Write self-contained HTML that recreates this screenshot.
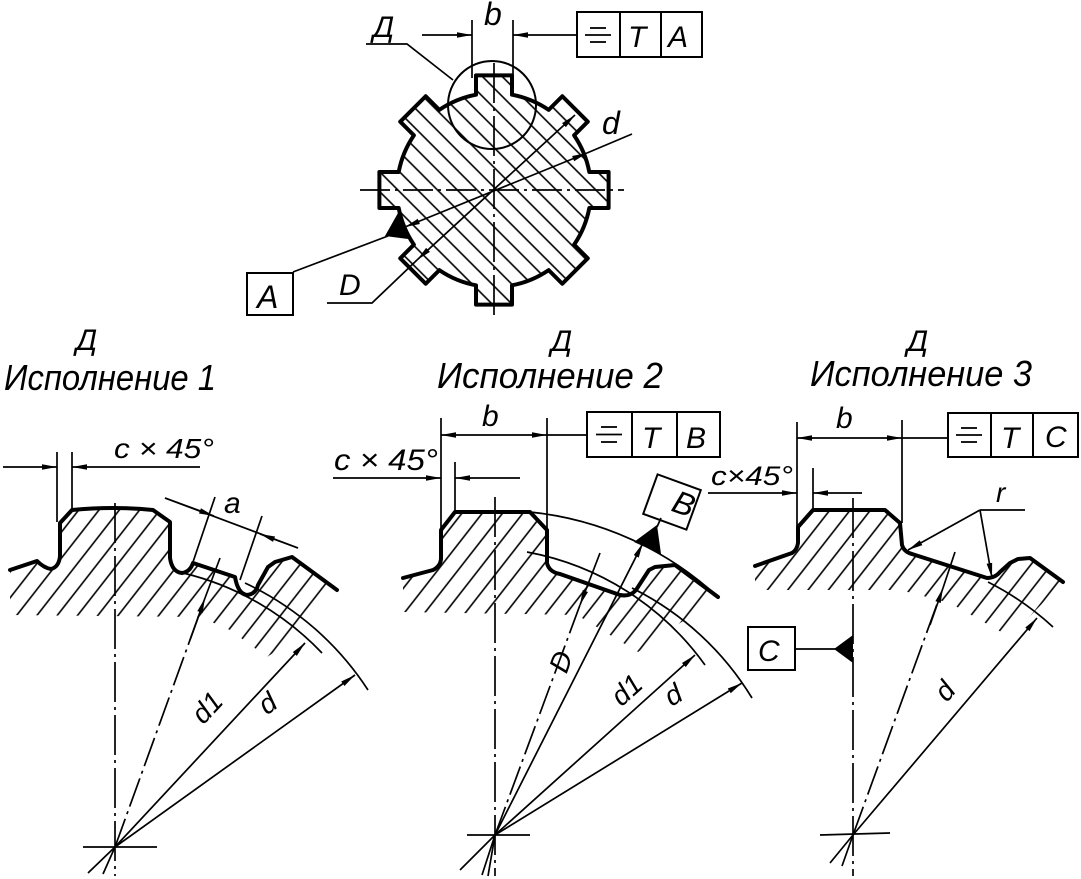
<!DOCTYPE html>
<html><head><meta charset="utf-8"><style>
html,body{margin:0;padding:0;background:#fff;width:1081px;height:879px;overflow:hidden;}
svg{display:block;}
text{font-family:"Liberation Sans","DejaVu Sans",sans-serif;font-style:italic;fill:#000;stroke:none;}
</style></head><body>
<svg width="1081" height="879" viewBox="0 0 1081 879" xmlns="http://www.w3.org/2000/svg">
<defs>
<marker id="a" viewBox="0 0 15 6" refX="15" refY="3" markerWidth="15" markerHeight="6" markerUnits="userSpaceOnUse" orient="auto-start-reverse"><path d="M0,0.2 L15,3 L0,5.8 Z" fill="#000" stroke="none"/></marker>
<pattern id="h45" patternUnits="userSpaceOnUse" width="14" height="14" patternTransform="rotate(-45)"><line x1="7" y1="-1" x2="7" y2="15" stroke="#000" stroke-width="1.6"/></pattern>
<pattern id="hb" patternUnits="userSpaceOnUse" width="16" height="16" patternTransform="rotate(38)"><line x1="8" y1="-1" x2="8" y2="17" stroke="#000" stroke-width="1.6"/></pattern>
</defs>
<rect width="1081" height="879" fill="#fff"/>

<g fill="none" stroke="#000" stroke-width="1.7">
<!-- ===== TOP FIGURE ===== -->
<path fill="url(#h45)" stroke="none" d="M589.31,172 L608.6,172 L608.6,208 L589.31,208 A97 97 0 0 1 574.12,244.66 L587.76,258.3 L562.3,283.76 L548.66,270.12 A97 97 0 0 1 512,285.31 L512,304.6 L476,304.6 L476,285.31 A97 97 0 0 1 439.34,270.12 L425.7,283.76 L400.24,258.3 L413.88,244.66 A97 97 0 0 1 398.69,208 L379.4,208 L379.4,172 L398.69,172 A97 97 0 0 1 413.88,135.34 L400.24,121.7 L425.7,96.24 L439.34,109.88 A97 97 0 0 1 476,94.69 L476,75.4 L512,75.4 L512,94.69 A97 97 0 0 1 548.66,109.88 L562.3,96.24 L587.76,121.7 L574.12,135.34 A97 97 0 0 1 589.31,172 Z"/>
<path stroke-width="4" stroke-linejoin="round" d="M589.31,172 L608.6,172 L608.6,208 L589.31,208 A97 97 0 0 1 574.12,244.66 L587.76,258.3 L562.3,283.76 L548.66,270.12 A97 97 0 0 1 512,285.31 L512,304.6 L476,304.6 L476,285.31 A97 97 0 0 1 439.34,270.12 L425.7,283.76 L400.24,258.3 L413.88,244.66 A97 97 0 0 1 398.69,208 L379.4,208 L379.4,172 L398.69,172 A97 97 0 0 1 413.88,135.34 L400.24,121.7 L425.7,96.24 L439.34,109.88 A97 97 0 0 1 476,94.69 L476,75.4 L512,75.4 L512,94.69 A97 97 0 0 1 548.66,109.88 L562.3,96.24 L587.76,121.7 L574.12,135.34 A97 97 0 0 1 589.31,172 Z"/>
<circle cx="492" cy="105" r="44" stroke-width="2"/>
<line x1="494" y1="63" x2="494" y2="319" stroke-dasharray="40 5 3 5"/>
<line x1="360" y1="190" x2="624" y2="190" stroke-dasharray="30 5 3 5"/>
<polyline points="453,80 407,44 366,44"/>
<line x1="472" y1="20" x2="472" y2="78"/>
<line x1="513" y1="20" x2="513" y2="78"/>
<line x1="422" y1="35" x2="472" y2="35" marker-end="url(#a)"/>
<line x1="577" y1="35" x2="513" y2="35" marker-end="url(#a)"/>
<rect x="577" y="12" width="125" height="45" stroke-width="2"/>
<line x1="620" y1="12" x2="620" y2="57" stroke-width="2"/>
<line x1="661" y1="12" x2="661" y2="57" stroke-width="2"/>
<line x1="590" y1="28" x2="606" y2="28" stroke-width="1.8"/>
<line x1="585" y1="35" x2="611" y2="35" stroke-width="1.8"/>
<line x1="590" y1="42" x2="606" y2="42" stroke-width="1.8"/>
<!-- d -->
<line x1="405" y1="227" x2="587" y2="153" marker-start="url(#a)" marker-end="url(#a)"/>
<line x1="587" y1="153" x2="632" y2="134"/>
<!-- D -->
<line x1="417" y1="260" x2="575" y2="115" marker-start="url(#a)" marker-end="url(#a)"/>
<polyline points="417,260 372,303 327,303"/>
<!-- datum A -->
<polygon points="398,213 385,236 408,239" fill="#000" stroke="none"/>
<line x1="388" y1="236" x2="293" y2="272"/>
<rect x="247" y="273" width="46" height="42" stroke-width="2"/>

<!-- ===== VIEW 1 ===== -->
<path fill="url(#hb)" stroke="none" d="M10,570 L37,561 Q44,568 51,569 Q59,567 60,556 L60,523 L72,510 Q113,506 153,510 L170,522 L170,558 Q172,572 182,573 Q190,572 193,563 L235,577 Q238,594 247,595 Q256,594 258,585 L268,567 L275,562 L292,557 L337,590 L305,632 L267,657 L230,630 L200,617 L10,615 Z"/>
<path stroke-width="4" stroke-linejoin="round" stroke-linecap="round" d="M10,570 L37,561 Q44,568 51,569 Q59,567 60,556 L60,523 L72,510 Q113,506 153,510 L170,522 L170,558 Q172,572 182,573 Q190,572 193,563 L235,577 Q238,594 247,595 Q256,594 258,585 L268,567 L275,562 L292,557 L337,590"/>
<line x1="115" y1="503" x2="115" y2="876" stroke-dasharray="40 5 3 5"/>
<line x1="83" y1="847" x2="157" y2="847"/>
<line x1="115" y1="847" x2="88" y2="873"/>
<line x1="115" y1="847" x2="103" y2="874"/>
<line x1="57" y1="452" x2="57" y2="522"/>
<line x1="72" y1="452" x2="72" y2="510"/>
<line x1="3" y1="467" x2="57" y2="467" marker-end="url(#a)"/>
<line x1="200" y1="467" x2="72" y2="467" marker-end="url(#a)"/>
<line x1="165" y1="498" x2="298" y2="548"/>
<line x1="165" y1="498" x2="214" y2="516" marker-end="url(#a)"/>
<line x1="298" y1="548" x2="260" y2="534" marker-end="url(#a)"/>
<line x1="193" y1="562" x2="215" y2="497"/>
<line x1="240" y1="580" x2="262" y2="516"/>
<line x1="115" y1="847" x2="203" y2="604" stroke-dasharray="30 5 3 5"/>
<line x1="190" y1="640" x2="205" y2="598" marker-end="url(#a)"/>
<line x1="205" y1="598" x2="220" y2="558"/>
<path d="M183,573 A282 282 0 0 1 322,653"/>
<path d="M245,583 A297 297 0 0 1 368,690"/>
<line x1="115" y1="847" x2="305" y2="643" marker-end="url(#a)"/>
<line x1="115" y1="847" x2="355" y2="675" marker-end="url(#a)"/>

<!-- ===== VIEW 2 ===== -->
<path fill="url(#hb)" stroke="none" d="M403,578 L433,570 Q441,566 441,558 L441,530 L455,512 L530,512 L547,530 L547,563 Q549,572 560,574 L620,595 Q630,597 636,590 L649,570 L655,567 L675,565 L718,597 L638,652 L577,615 L403,612 Z"/>
<path stroke-width="4" stroke-linejoin="round" stroke-linecap="round" d="M403,578 L433,570 Q441,566 441,558 L441,530 L455,512 L530,512 L547,530 L547,563 Q549,572 560,574 L620,595 Q630,597 636,590 L649,570 L655,567 L675,565 L718,597"/>
<path d="M530,512 A325 325 0 0 1 718,597"/>
<path d="M527,552 A282 282 0 0 1 705,665"/>
<path d="M632,588 A292 292 0 0 1 752,698"/>
<line x1="495" y1="497" x2="495" y2="876" stroke-dasharray="40 5 3 5"/>
<line x1="467" y1="835" x2="530" y2="835"/>
<line x1="495" y1="835" x2="460" y2="870"/>
<line x1="495" y1="835" x2="482" y2="875"/>
<line x1="495" y1="835" x2="488" y2="876"/>
<line x1="441" y1="418" x2="441" y2="530"/>
<line x1="455" y1="462" x2="455" y2="512"/>
<line x1="547" y1="418" x2="547" y2="530"/>
<line x1="333" y1="478" x2="441" y2="478" marker-end="url(#a)"/>
<line x1="520" y1="478" x2="455" y2="478" marker-end="url(#a)"/>
<line x1="441" y1="435" x2="547" y2="435" marker-start="url(#a)" marker-end="url(#a)"/>
<line x1="547" y1="435" x2="587" y2="435"/>
<rect x="587" y="412" width="133" height="45" stroke-width="2"/>
<line x1="632" y1="412" x2="632" y2="457" stroke-width="2"/>
<line x1="677" y1="412" x2="677" y2="457" stroke-width="2"/>
<line x1="601" y1="427" x2="617" y2="427" stroke-width="1.8"/>
<line x1="596" y1="434.5" x2="622" y2="434.5" stroke-width="1.8"/>
<line x1="601" y1="442" x2="617" y2="442" stroke-width="1.8"/>
<line x1="495" y1="835" x2="580" y2="605" stroke-dasharray="30 5 3 5"/>
<line x1="600" y1="553" x2="580" y2="605" marker-end="url(#a)"/>
<line x1="495" y1="835" x2="643" y2="543" marker-end="url(#a)"/>
<line x1="495" y1="835" x2="695" y2="655" marker-end="url(#a)"/>
<line x1="495" y1="835" x2="742" y2="683" marker-end="url(#a)"/>
<polygon points="634,542 661,554 657,525" fill="#000" stroke="none"/>
<line x1="657" y1="527" x2="661" y2="518"/>
<g transform="translate(672,502) rotate(20)"><rect x="-23" y="-21" width="46" height="42" stroke-width="2"/></g>

<!-- ===== VIEW 3 ===== -->
<path fill="url(#hb)" stroke="none" d="M755,566 L792,553 Q797,550 798,543 L798,527 L813,510 L885,510 L900,523 L902,545 Q904,552 912,554 L987,578 Q995,578 1000,572 L1010,563 L1018,559 L1030,558 L1063,582 L1010,637 L950,603 L900,590 L755,590 Z"/>
<path stroke-width="4" stroke-linejoin="round" stroke-linecap="round" d="M755,566 L792,553 Q797,550 798,543 L798,527 L813,510 L885,510 L900,523 L902,545 Q904,552 912,554 L987,578 Q995,578 1000,572 L1010,563 L1018,559 L1030,558 L1063,582"/>
<path d="M988,582 A288 288 0 0 1 1053,627"/>
<line x1="853" y1="498" x2="853" y2="876" stroke-dasharray="40 5 3 5"/>
<line x1="820" y1="835" x2="890" y2="833"/>
<line x1="853" y1="835" x2="830" y2="863"/>
<line x1="853" y1="835" x2="842" y2="866"/>
<line x1="797" y1="422" x2="797" y2="527"/>
<line x1="813" y1="468" x2="813" y2="510"/>
<line x1="902" y1="420" x2="902" y2="523"/>
<line x1="708" y1="493" x2="797" y2="493" marker-end="url(#a)"/>
<line x1="862" y1="493" x2="813" y2="493" marker-end="url(#a)"/>
<line x1="797" y1="438" x2="902" y2="438" marker-start="url(#a)" marker-end="url(#a)"/>
<line x1="902" y1="438" x2="948" y2="438"/>
<rect x="948" y="413" width="130" height="44" stroke-width="2"/>
<line x1="991" y1="413" x2="991" y2="457" stroke-width="2"/>
<line x1="1033" y1="413" x2="1033" y2="457" stroke-width="2"/>
<line x1="961" y1="428" x2="977" y2="428" stroke-width="1.8"/>
<line x1="956" y1="435" x2="982" y2="435" stroke-width="1.8"/>
<line x1="961" y1="442" x2="977" y2="442" stroke-width="1.8"/>
<line x1="1025" y1="510" x2="980" y2="510"/>
<line x1="980" y1="510" x2="908" y2="550" marker-end="url(#a)"/>
<line x1="980" y1="510" x2="992" y2="578" marker-end="url(#a)"/>
<line x1="853" y1="835" x2="940" y2="596" stroke-dasharray="30 5 3 5"/>
<line x1="930" y1="625" x2="943" y2="588" marker-end="url(#a)"/>
<line x1="943" y1="588" x2="955" y2="552"/>
<line x1="853" y1="835" x2="1037" y2="618" marker-end="url(#a)"/>
<rect x="748" y="627" width="47" height="43" stroke-width="2"/>
<line x1="795" y1="649" x2="836" y2="649"/>
<polygon points="834,649 853,635 853,663" fill="#000" stroke="none"/>
</g>

<!-- ===== TEXT ===== -->
<text x="373" y="37" font-size="30">Д</text>
<text x="484" y="25" font-size="32">b</text>
<text x="628" y="47" font-size="30">T</text>
<text x="668" y="47" font-size="30">A</text>
<text x="602" y="134" font-size="32">d</text>
<text x="339" y="295" font-size="30">D</text>
<text x="257" y="308" font-size="32">A</text>

<text x="76" y="350" font-size="30">Д</text>
<text x="4" y="390" font-size="36" textLength="212" lengthAdjust="spacingAndGlyphs">Исполнение 1</text>
<text x="114" y="458" font-size="28" textLength="100" lengthAdjust="spacingAndGlyphs">c × 45°</text>
<text x="224" y="513" font-size="30">a</text>
<text transform="translate(214,714) rotate(-47)" font-size="28" text-anchor="middle">d1</text>
<text transform="translate(273,711) rotate(-36)" font-size="28" text-anchor="middle">d</text>

<text x="551" y="351" font-size="30">Д</text>
<text x="437" y="388" font-size="36" textLength="226" lengthAdjust="spacingAndGlyphs">Исполнение 2</text>
<text x="334" y="470" font-size="30" textLength="104" lengthAdjust="spacingAndGlyphs">c × 45°</text>
<text x="482" y="426" font-size="30">b</text>
<text x="642" y="448" font-size="30">T</text>
<text x="686" y="448" font-size="30">B</text>
<text transform="translate(680,514) rotate(20)" font-size="32" text-anchor="middle">B</text>
<text transform="translate(570,665) rotate(-70)" font-size="28" text-anchor="middle">D</text>
<text transform="translate(633,697) rotate(-42)" font-size="28" text-anchor="middle">d1</text>
<text transform="translate(678,703) rotate(-31)" font-size="28" text-anchor="middle">d</text>

<text x="907" y="351" font-size="30">Д</text>
<text x="810" y="386" font-size="36" textLength="222" lengthAdjust="spacingAndGlyphs">Исполнение 3</text>
<text x="711" y="485" font-size="27" textLength="82" lengthAdjust="spacingAndGlyphs">c×45°</text>
<text x="836" y="428" font-size="30">b</text>
<text x="1001" y="448" font-size="30">T</text>
<text x="1045" y="447" font-size="30">C</text>
<text x="996" y="502" font-size="28">r</text>
<text x="758" y="661" font-size="30">C</text>
<text transform="translate(952,697) rotate(-50)" font-size="28" text-anchor="middle">d</text>
</svg>
</body></html>
